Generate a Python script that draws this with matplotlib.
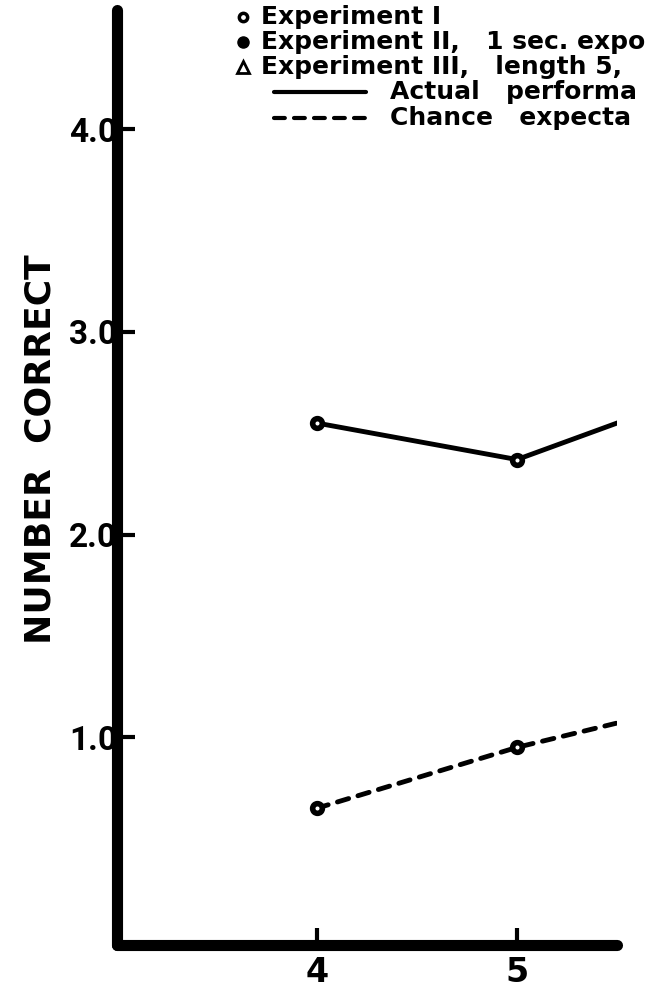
import matplotlib
matplotlib.use("Agg")
import matplotlib.pyplot as plt
from matplotlib.lines import Line2D

# ---- data ----
set_size = [4, 5, 6]
actual_performance = [2.55, 2.37, 2.73]
chance_expectancy = [0.65, 0.95, 1.19]
y_ticks = [1.0, 2.0, 3.0, 4.0]
y_tick_labels = ["1.0", "2.0", "3.0", "4.0"]
x_ticks = [4, 5]
x_tick_labels = ["4", "5"]
legend_markers = ["Experiment I", "Experiment II,   1 sec. expo",
                  "Experiment III,   length 5,"]
legend_lines = ["Actual   performa", "Chance   expecta"]

plt.rcParams['font.family'] = ['DejaVu Sans']
W, H = 648, 990
fig = plt.figure(figsize=(W / 100, H / 100), dpi=100)
ax = fig.add_axes([117 / W, 45 / H, 500 / W, 935 / H])

ax.plot(set_size, actual_performance, color='black', lw=3.5, ls='-',
        marker='o', ms=7, mew=4, mfc='white', mec='black',
        solid_capstyle='round')
ax.plot(set_size, chance_expectancy, color='black', lw=3.5, ls=(0, (2.4, 2.0)),
        marker='o', ms=7, mew=4, mfc='white', mec='black',
        dash_capstyle='round')

ax.set_xlim(3.0, 5.5)
ax.set_ylim(-0.025, 4.588)
for s in ['top', 'right']:
    ax.spines[s].set_visible(False)
for s in ['left', 'bottom']:
    ax.spines[s].set_linewidth(8)
    ax.spines[s].set_capstyle('round')

ax.set_yticks(y_ticks)
ax.set_yticklabels(y_tick_labels, fontsize=24, fontweight='bold',
                   family=['Roboto', 'DejaVu Sans'])
ax.set_xticks(x_ticks)
ax.set_xticklabels(x_tick_labels, fontsize=24, fontweight='bold')
ax.tick_params(axis='y', direction='in', length=13, width=3, pad=0)
ax.tick_params(axis='x', direction='in', length=12, width=3, pad=8)

ax.set_ylabel("NUMBER  CORRECT", fontsize=26, fontweight='bold')
ax.yaxis.set_label_coords((58 - 117) / 500, (945 - 449) / 935)

# ---- legend (manual, in pixel-derived figure coordinates) ----
def fx(px):
    return px / W

def fy(py):
    return 1 - py / H

marker_styles = [
    dict(marker='o', ms=6, mfc='white', mec='black', mew=2.5),
    dict(marker='o', ms=8, mfc='black', mec='black', mew=1),
    dict(marker='^', ms=8, mfc='white', mec='black', mew=2),
]
rows_y = [17, 42, 67, 92, 118]
for i, (label, st) in enumerate(zip(legend_markers, marker_styles)):
    fig.add_artist(Line2D([fx(243)], [fy(rows_y[i])], transform=fig.transFigure,
                          ls='none', color='black', **st))
    fig.text(fx(261), fy(rows_y[i]), label, fontsize=18, fontweight='bold',
             va='center', ha='left')

line_styles = ['-', (0, (2.6, 2.2))]
for j, (label, ls) in enumerate(zip(legend_lines, line_styles)):
    yy = rows_y[3 + j]
    fig.add_artist(Line2D([fx(274), fx(366)], [fy(yy), fy(yy)],
                          transform=fig.transFigure, color='black', lw=3, ls=ls,
                          dash_capstyle='round', solid_capstyle='round'))
    fig.text(fx(390), fy(yy), label, fontsize=18, fontweight='bold',
             va='center', ha='left')

fig.savefig("out.png", dpi=100)
